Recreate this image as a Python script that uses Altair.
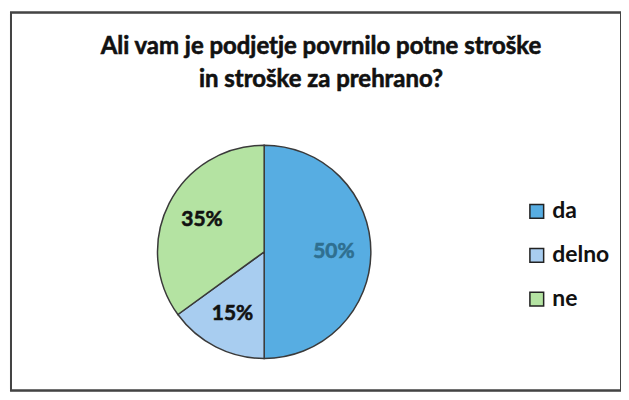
import altair as alt
import pandas as pd

categories = ["da", "delno", "ne"]
values = [50, 15, 35]
labels = ["50%", "15%", "35%"]
colors = ["#57ade2", "#a8cdf0", "#b4e3a2"]
label_colors = ["#2f6f90", "#111111", "#111111"]
title_lines = ["Ali vam je podjetje povrnilo potne stroške", "in stroške za prehrano?"]

df = pd.DataFrame({"kat": categories, "val": values, "lab": labels,
                   "lc": label_colors, "order": [0, 1, 2]})
tdf = pd.DataFrame({"t": title_lines, "row": [0, 1]})

FONT = "Lato"
cx, cy, R = 254, 240, 107

base = alt.Chart(df).encode(
    theta=alt.Theta("val:Q", stack=True),
    order=alt.Order("order:Q"),
)

frame = alt.Chart(tdf).mark_rect(fill=None, stroke="#444", strokeWidth=2).encode(
    x=alt.value(0), x2=alt.value(612), y=alt.value(0), y2=alt.value(379),
)

pie = base.mark_arc(outerRadius=R, stroke="#3a3a3a", strokeWidth=1.5).encode(
    x=alt.value(cx), y=alt.value(cy),
    color=alt.Color("kat:N",
                    scale=alt.Scale(domain=categories, range=colors),
                    legend=alt.Legend(title=None, orient="none", legendX=516, legendY=188,
                                      symbolType="square", symbolSize=190,
                                      symbolStrokeColor="#222", symbolStrokeWidth=1.5,
                                      labelFont=FONT, labelFontSize=23, labelFontWeight="bold",
                                      labelColor="#111", rowPadding=20, labelOffset=4,
                                      padding=0, symbolOpacity=1)),
)

txt = base.mark_text(radius=70, font=FONT, fontSize=21, fontWeight="bold", strokeWidth=0.6).encode(
    x=alt.value(cx), y=alt.value(cy),
    text="lab:N",
    color=alt.Color("lc:N", scale=None),
    stroke=alt.Stroke("lc:N", scale=None),
)

title = alt.Chart(tdf).mark_text(font=FONT, fontSize=24, fontWeight="bold", color="#111",
                                 stroke="#111", strokeWidth=0.6, baseline="middle").encode(
    x=alt.value(311),
    y=alt.Y("row:Q", scale=alt.Scale(domain=[0, 1], range=[35, 68]), axis=None),
    text="t:N",
)

chart = alt.layer(frame, pie, txt, title).properties(
    width=612, height=380,
    padding={"left": 3, "top": 4, "right": 0, "bottom": 0},
    autosize=alt.AutoSizeParams(type="none"),
).configure_view(stroke=None).configure(background="white")

chart.save("out.html", embed_options={"renderer": "svg", "actions": False})
